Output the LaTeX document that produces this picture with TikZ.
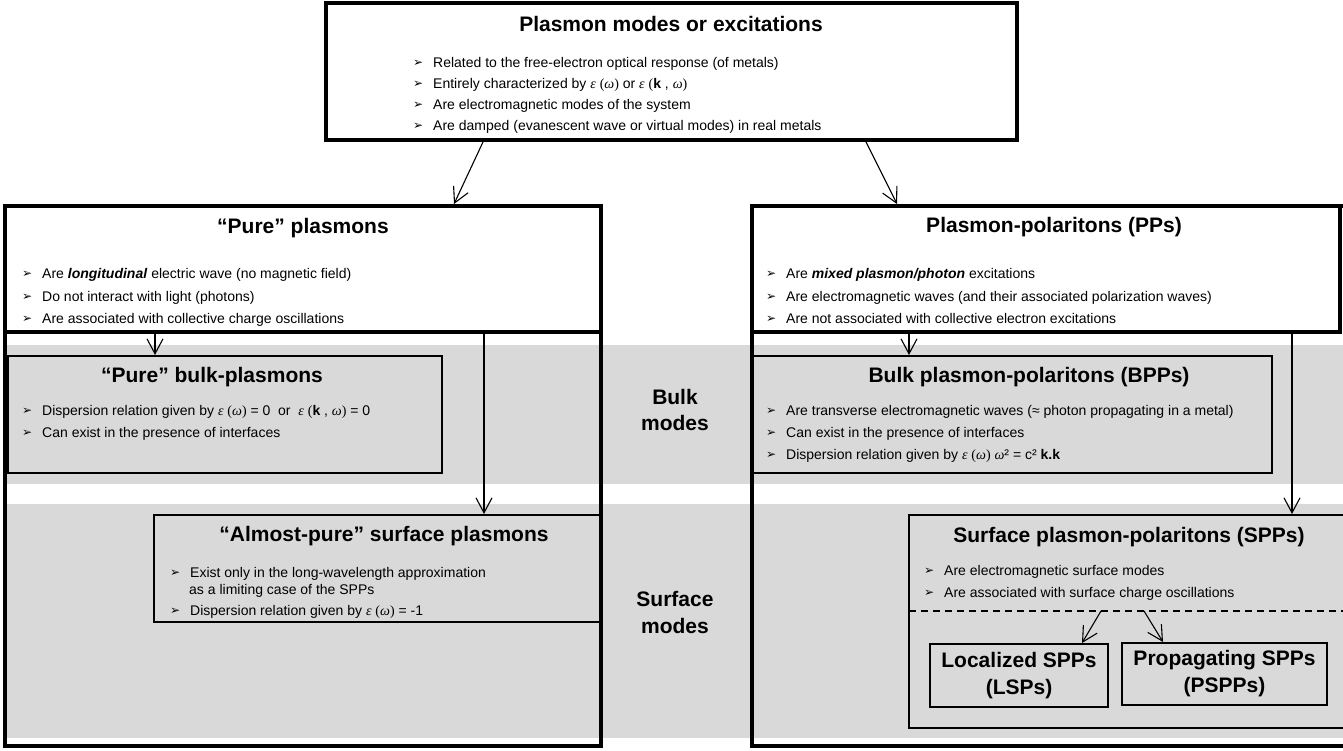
\documentclass[tikz,border=0pt]{standalone}
\usepackage{fontspec}
\setmainfont{Liberation Sans}
\newfontfamily\gkfont{Liberation Serif}
\newfontfamily\dingfont{DejaVu Sans}
\usetikzlibrary{arrows.meta,calc}
\definecolor{bandgray}{RGB}{217,217,217}
\newcommand{\mk}{\makebox[20pt][l]{\raisebox{0.5pt}{\dingfont\fontsize{12}{12}\selectfont ➢}}}
\newcommand{\myeps}{{\gkfont\itshape ε}}
\newcommand{\myom}{{\gkfont\itshape ω}}
\newcommand{\epw}{\myeps\ {\gkfont(}\myom{\gkfont)}}
\newcommand{\epkw}{\myeps\ {\gkfont(}\textbf{k} , \myom{\gkfont)}}
\tikzset{
  boxthick/.style={draw, line width=4pt, inner sep=0pt, outer sep=0pt, anchor=north west},
  boxthin/.style={draw, line width=2pt, inner sep=0pt, outer sep=0pt, anchor=north west},
  ttl/.style={font=\fontsize{21}{26}\selectfont\bfseries, anchor=base, inner sep=0pt},
  btxt/.style={font=\fontsize{14}{17}\selectfont, anchor=base west, inner sep=0pt},
  arr/.style={line width=1.1pt, -{Straight Barb[length=15pt,width=16pt,line width=1.1pt]}},
  dashline/.style={line width=1.6pt, dash pattern=on 7pt off 5pt},
  band/.style={fill=bandgray, draw=none},
}
\begin{document}
\begin{tikzpicture}[x=1pt,y=-1pt]
\useasboundingbox (0,0) rectangle (1343,750);
% gray bands
\fill[band] (3,345) rectangle (1343,484);
\fill[band] (3,504) rectangle (1343,738);

% boxes
\node[boxthick, minimum width=691, minimum height=137] (top) at (326,3) {};
\node[boxthick, minimum width=596, minimum height=540] (lcol) at (5,206) {};
\node[boxthick, minimum width=596, minimum height=126] (pure) at (5,206) {};
\node[boxthick, minimum width=598, minimum height=540] (rcol) at (752,206) {};
\node[boxthick, minimum width=588, minimum height=126] (pp) at (752,206) {};
\node[boxthin, minimum width=434, minimum height=117] (bulk) at (8,356) {};
\node[boxthin, minimum width=519, minimum height=117] (bpp) at (753,356) {};
\node[boxthin, minimum width=447, minimum height=107] (almost) at (154,515) {};
\node[boxthin, minimum width=441, minimum height=213] (spp) at (909,515) {};
\node[boxthin, minimum width=178, minimum height=63, align=center,
      font=\fontsize{21}{27}\selectfont\bfseries] (lsp) at (930,644) {\raisebox{-3pt}{Localized SPPs}\\\raisebox{-3pt}{(LSPs)}};
\node[boxthin, minimum width=205, minimum height=62, align=center,
      font=\fontsize{21}{27}\selectfont\bfseries] (pspp) at (1122,643) {\raisebox{-2pt}{Propagating SPPs}\\\raisebox{-2pt}{(PSPPs)}};

% dashed separator in SPP box
\coordinate (dl) at ($(spp.north west)+(0,96)$);
\coordinate (dr) at ($(spp.north east)+(0,96)$);
\draw[dashline] (dl) -- (dr);

% connectors
\draw[arr] ($(top.south west)+(157,2)$) -- ($(pure.north west)+(449,-2)$);
\draw[arr] ($(top.south west)+(540,2)$) -- ($(pp.north west)+(145,-2)$);
\draw[arr] ($(pure.south west)+(150,2)$) -- ($(bulk.north west)+(147,-1)$);
\draw[arr] ($(pure.south west)+(479,2)$) -- ($(almost.north west)+(330,-1)$);
\draw[arr] ($(pp.south west)+(157,2)$) -- ($(bpp.north west)+(156,-1)$);
\draw[arr] ($(pp.south west)+(540,2)$) -- ($(spp.north west)+(383,-1)$);
\draw[arr] ($(dl)+(192,0)$) -- ($(lsp.north west)+(152,-1)$);
\draw[arr] ($(dl)+(235,0)$) -- ($(pspp.north west)+(41,-1)$);

% titles
\node[ttl] (ttop) at (671,31.5) {Plasmon modes or excitations};
\node[ttl] (tpure) at (303,233.5) {“Pure” plasmons};
\node[ttl] (tpp) at (1054,232.5) {Plasmon-polaritons (PPs)};
\node[ttl] (tbulk) at (212,382.5) {“Pure” bulk-plasmons};
\node[ttl] (tbpp) at (1029,382.5) {Bulk plasmon-polaritons (BPPs)};
\node[ttl] (talm) at (384,541) {“Almost-pure” surface plasmons};
\node[ttl] (tspp) at (1129,542) {Surface plasmon-polaritons (SPPs)};

% side labels
\node[ttl] (bulkA) at (675,404.5) {Bulk};
\node[ttl] (bulkB) at (675,430.5) {modes};
\node[ttl] (surfA) at (675,606.5) {Surface};
\node[ttl] (surfB) at (675,633) {modes};

% top bullets
\node[btxt] (top1) at (413,67) {\mk Related to the free-electron optical response (of metals)};
\node[btxt] (top2) at (413,88) {\mk Entirely characterized by \epw{} or \epkw};
\node[btxt] (top3) at (413,109) {\mk Are electromagnetic modes of the system};
\node[btxt] (top4) at (413,130) {\mk Are damped (evanescent wave or virtual modes) in real metals};

% pure plasmons bullets
\node[btxt] (pu1) at (22,278) {\mk Are \textbf{\textit{longitudinal}} electric wave (no magnetic field)};
\node[btxt] (pu2) at (22,301) {\mk Do not interact with light (photons)};
\node[btxt] (pu3) at (22,323) {\mk Are associated with collective charge oscillations};

% plasmon-polaritons bullets
\node[btxt] (pp1) at (766,278) {\mk Are \textbf{\textit{mixed plasmon/photon}} excitations};
\node[btxt] (pp2) at (766,301) {\mk Are electromagnetic waves (and their associated polarization waves)};
\node[btxt] (pp3) at (766,323) {\mk Are not associated with collective electron excitations};

% bulk bullets
\node[btxt] (bu1) at (22,415) {\mk Dispersion relation given by \epw{} = 0 \ or \ \epkw{} = 0};
\node[btxt] (bu2) at (22,437) {\mk Can exist in the presence of interfaces};

% BPP bullets
\node[btxt] (bp1) at (766,415) {\mk Are transverse electromagnetic waves (≈ photon propagating in a metal)};
\node[btxt] (bp2) at (766,437) {\mk Can exist in the presence of interfaces};
\node[btxt] (bp3) at (766,459) {\mk Dispersion relation given by \epw{} \myom² = c² \textbf{k.k}};

% almost-pure bullets
\node[btxt] (al1) at (170,577) {\mk Exist only in the long-wavelength approximation};
\node[btxt] (al1b) at (189,594) {as a limiting case of the SPPs};
\node[btxt] (al2) at (170,615) {\mk Dispersion relation given by \epw{} = -1};

% SPP bullets
\node[btxt] (sp1) at (924,575) {\mk Are electromagnetic surface modes};
\node[btxt] (sp2) at (924,597) {\mk Are associated with surface charge oscillations};
\end{tikzpicture}
\end{document}
